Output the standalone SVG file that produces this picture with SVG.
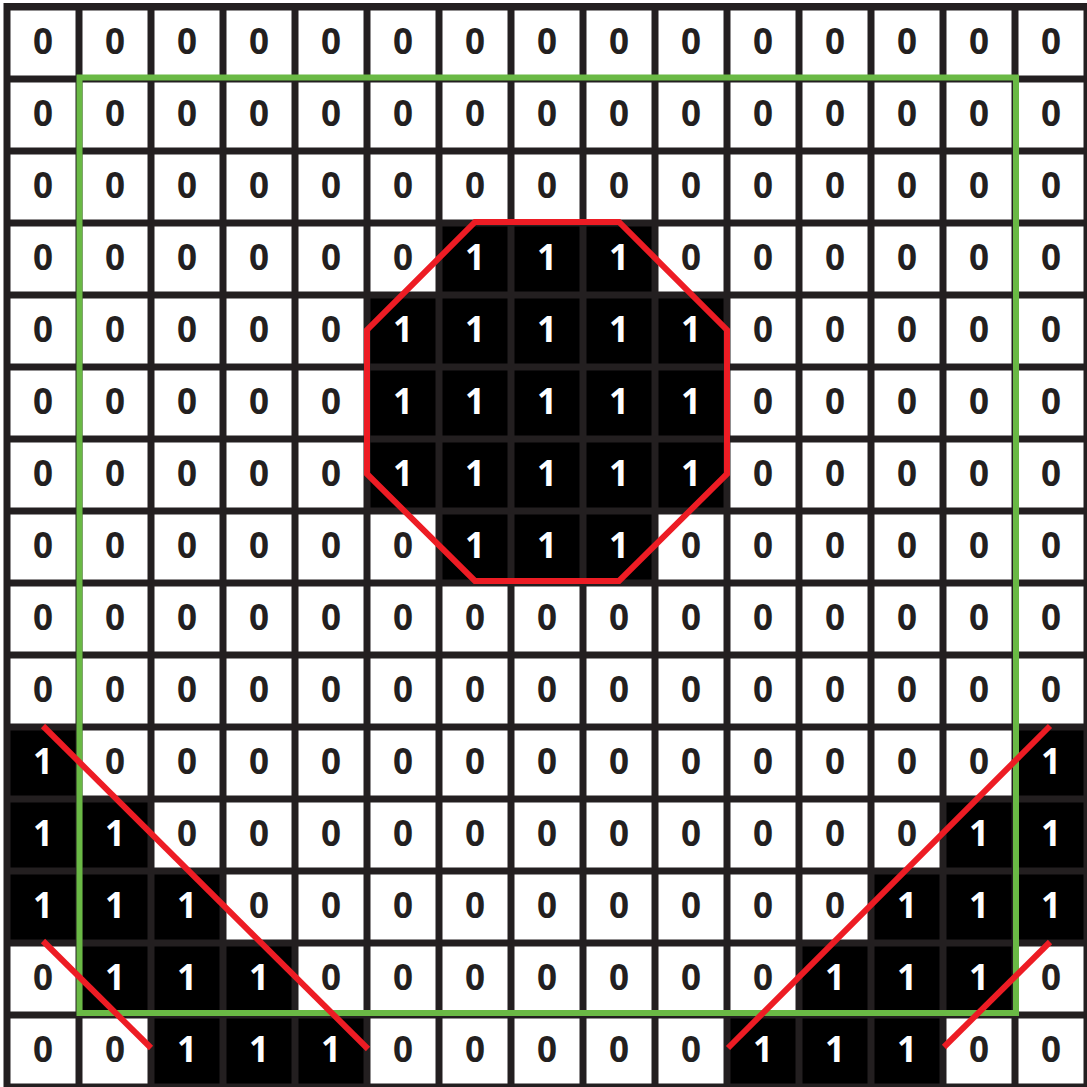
<svg xmlns="http://www.w3.org/2000/svg" width="1087" height="1087" viewBox="0 0 1087 1087">
<style>
.z rect{fill:#fff}
.o rect{fill:#000}
text{font-family:"Open Sans","Liberation Sans",sans-serif;font-weight:700;font-size:35px;text-anchor:middle}
.z text{fill:#231f20}
.o text{fill:#fff}
.green{fill:none;stroke:#6ab945;stroke-width:6}
.red{fill:none;stroke:#ed1c24;stroke-width:6;stroke-linejoin:miter}
</style>
<rect x="0" y="0" width="1087" height="1087" fill="#fff"/>
<rect x="3.5" y="3" width="1084" height="1084" fill="#231f20"/>
<g id="cells">
<g id="r0c0" class="z" transform="translate(0 0)"><rect x="10.5" y="10.5" width="65" height="65"/><text x="43" y="54">0</text></g>
<g id="r0c1" class="z" transform="translate(72 0)"><rect x="10.5" y="10.5" width="65" height="65"/><text x="43" y="54">0</text></g>
<g id="r0c2" class="z" transform="translate(144 0)"><rect x="10.5" y="10.5" width="65" height="65"/><text x="43" y="54">0</text></g>
<g id="r0c3" class="z" transform="translate(216 0)"><rect x="10.5" y="10.5" width="65" height="65"/><text x="43" y="54">0</text></g>
<g id="r0c4" class="z" transform="translate(288 0)"><rect x="10.5" y="10.5" width="65" height="65"/><text x="43" y="54">0</text></g>
<g id="r0c5" class="z" transform="translate(360 0)"><rect x="10.5" y="10.5" width="65" height="65"/><text x="43" y="54">0</text></g>
<g id="r0c6" class="z" transform="translate(432 0)"><rect x="10.5" y="10.5" width="65" height="65"/><text x="43" y="54">0</text></g>
<g id="r0c7" class="z" transform="translate(504 0)"><rect x="10.5" y="10.5" width="65" height="65"/><text x="43" y="54">0</text></g>
<g id="r0c8" class="z" transform="translate(576 0)"><rect x="10.5" y="10.5" width="65" height="65"/><text x="43" y="54">0</text></g>
<g id="r0c9" class="z" transform="translate(648 0)"><rect x="10.5" y="10.5" width="65" height="65"/><text x="43" y="54">0</text></g>
<g id="r0c10" class="z" transform="translate(720 0)"><rect x="10.5" y="10.5" width="65" height="65"/><text x="43" y="54">0</text></g>
<g id="r0c11" class="z" transform="translate(792 0)"><rect x="10.5" y="10.5" width="65" height="65"/><text x="43" y="54">0</text></g>
<g id="r0c12" class="z" transform="translate(864 0)"><rect x="10.5" y="10.5" width="65" height="65"/><text x="43" y="54">0</text></g>
<g id="r0c13" class="z" transform="translate(936 0)"><rect x="10.5" y="10.5" width="65" height="65"/><text x="43" y="54">0</text></g>
<g id="r0c14" class="z" transform="translate(1008 0)"><rect x="10.5" y="10.5" width="65" height="65"/><text x="43" y="54">0</text></g>
<g id="r1c0" class="z" transform="translate(0 72)"><rect x="10.5" y="10.5" width="65" height="65"/><text x="43" y="54">0</text></g>
<g id="r1c1" class="z" transform="translate(72 72)"><rect x="10.5" y="10.5" width="65" height="65"/><text x="43" y="54">0</text></g>
<g id="r1c2" class="z" transform="translate(144 72)"><rect x="10.5" y="10.5" width="65" height="65"/><text x="43" y="54">0</text></g>
<g id="r1c3" class="z" transform="translate(216 72)"><rect x="10.5" y="10.5" width="65" height="65"/><text x="43" y="54">0</text></g>
<g id="r1c4" class="z" transform="translate(288 72)"><rect x="10.5" y="10.5" width="65" height="65"/><text x="43" y="54">0</text></g>
<g id="r1c5" class="z" transform="translate(360 72)"><rect x="10.5" y="10.5" width="65" height="65"/><text x="43" y="54">0</text></g>
<g id="r1c6" class="z" transform="translate(432 72)"><rect x="10.5" y="10.5" width="65" height="65"/><text x="43" y="54">0</text></g>
<g id="r1c7" class="z" transform="translate(504 72)"><rect x="10.5" y="10.5" width="65" height="65"/><text x="43" y="54">0</text></g>
<g id="r1c8" class="z" transform="translate(576 72)"><rect x="10.5" y="10.5" width="65" height="65"/><text x="43" y="54">0</text></g>
<g id="r1c9" class="z" transform="translate(648 72)"><rect x="10.5" y="10.5" width="65" height="65"/><text x="43" y="54">0</text></g>
<g id="r1c10" class="z" transform="translate(720 72)"><rect x="10.5" y="10.5" width="65" height="65"/><text x="43" y="54">0</text></g>
<g id="r1c11" class="z" transform="translate(792 72)"><rect x="10.5" y="10.5" width="65" height="65"/><text x="43" y="54">0</text></g>
<g id="r1c12" class="z" transform="translate(864 72)"><rect x="10.5" y="10.5" width="65" height="65"/><text x="43" y="54">0</text></g>
<g id="r1c13" class="z" transform="translate(936 72)"><rect x="10.5" y="10.5" width="65" height="65"/><text x="43" y="54">0</text></g>
<g id="r1c14" class="z" transform="translate(1008 72)"><rect x="10.5" y="10.5" width="65" height="65"/><text x="43" y="54">0</text></g>
<g id="r2c0" class="z" transform="translate(0 144)"><rect x="10.5" y="10.5" width="65" height="65"/><text x="43" y="54">0</text></g>
<g id="r2c1" class="z" transform="translate(72 144)"><rect x="10.5" y="10.5" width="65" height="65"/><text x="43" y="54">0</text></g>
<g id="r2c2" class="z" transform="translate(144 144)"><rect x="10.5" y="10.5" width="65" height="65"/><text x="43" y="54">0</text></g>
<g id="r2c3" class="z" transform="translate(216 144)"><rect x="10.5" y="10.5" width="65" height="65"/><text x="43" y="54">0</text></g>
<g id="r2c4" class="z" transform="translate(288 144)"><rect x="10.5" y="10.5" width="65" height="65"/><text x="43" y="54">0</text></g>
<g id="r2c5" class="z" transform="translate(360 144)"><rect x="10.5" y="10.5" width="65" height="65"/><text x="43" y="54">0</text></g>
<g id="r2c6" class="z" transform="translate(432 144)"><rect x="10.5" y="10.5" width="65" height="65"/><text x="43" y="54">0</text></g>
<g id="r2c7" class="z" transform="translate(504 144)"><rect x="10.5" y="10.5" width="65" height="65"/><text x="43" y="54">0</text></g>
<g id="r2c8" class="z" transform="translate(576 144)"><rect x="10.5" y="10.5" width="65" height="65"/><text x="43" y="54">0</text></g>
<g id="r2c9" class="z" transform="translate(648 144)"><rect x="10.5" y="10.5" width="65" height="65"/><text x="43" y="54">0</text></g>
<g id="r2c10" class="z" transform="translate(720 144)"><rect x="10.5" y="10.5" width="65" height="65"/><text x="43" y="54">0</text></g>
<g id="r2c11" class="z" transform="translate(792 144)"><rect x="10.5" y="10.5" width="65" height="65"/><text x="43" y="54">0</text></g>
<g id="r2c12" class="z" transform="translate(864 144)"><rect x="10.5" y="10.5" width="65" height="65"/><text x="43" y="54">0</text></g>
<g id="r2c13" class="z" transform="translate(936 144)"><rect x="10.5" y="10.5" width="65" height="65"/><text x="43" y="54">0</text></g>
<g id="r2c14" class="z" transform="translate(1008 144)"><rect x="10.5" y="10.5" width="65" height="65"/><text x="43" y="54">0</text></g>
<g id="r3c0" class="z" transform="translate(0 216)"><rect x="10.5" y="10.5" width="65" height="65"/><text x="43" y="54">0</text></g>
<g id="r3c1" class="z" transform="translate(72 216)"><rect x="10.5" y="10.5" width="65" height="65"/><text x="43" y="54">0</text></g>
<g id="r3c2" class="z" transform="translate(144 216)"><rect x="10.5" y="10.5" width="65" height="65"/><text x="43" y="54">0</text></g>
<g id="r3c3" class="z" transform="translate(216 216)"><rect x="10.5" y="10.5" width="65" height="65"/><text x="43" y="54">0</text></g>
<g id="r3c4" class="z" transform="translate(288 216)"><rect x="10.5" y="10.5" width="65" height="65"/><text x="43" y="54">0</text></g>
<g id="r3c5" class="z" transform="translate(360 216)"><rect x="10.5" y="10.5" width="65" height="65"/><text x="43" y="54">0</text></g>
<g id="r3c6" class="o" transform="translate(432 216)"><rect x="10.5" y="10.5" width="65" height="65"/><text x="43" y="54">1</text></g>
<g id="r3c7" class="o" transform="translate(504 216)"><rect x="10.5" y="10.5" width="65" height="65"/><text x="43" y="54">1</text></g>
<g id="r3c8" class="o" transform="translate(576 216)"><rect x="10.5" y="10.5" width="65" height="65"/><text x="43" y="54">1</text></g>
<g id="r3c9" class="z" transform="translate(648 216)"><rect x="10.5" y="10.5" width="65" height="65"/><text x="43" y="54">0</text></g>
<g id="r3c10" class="z" transform="translate(720 216)"><rect x="10.5" y="10.5" width="65" height="65"/><text x="43" y="54">0</text></g>
<g id="r3c11" class="z" transform="translate(792 216)"><rect x="10.5" y="10.5" width="65" height="65"/><text x="43" y="54">0</text></g>
<g id="r3c12" class="z" transform="translate(864 216)"><rect x="10.5" y="10.5" width="65" height="65"/><text x="43" y="54">0</text></g>
<g id="r3c13" class="z" transform="translate(936 216)"><rect x="10.5" y="10.5" width="65" height="65"/><text x="43" y="54">0</text></g>
<g id="r3c14" class="z" transform="translate(1008 216)"><rect x="10.5" y="10.5" width="65" height="65"/><text x="43" y="54">0</text></g>
<g id="r4c0" class="z" transform="translate(0 288)"><rect x="10.5" y="10.5" width="65" height="65"/><text x="43" y="54">0</text></g>
<g id="r4c1" class="z" transform="translate(72 288)"><rect x="10.5" y="10.5" width="65" height="65"/><text x="43" y="54">0</text></g>
<g id="r4c2" class="z" transform="translate(144 288)"><rect x="10.5" y="10.5" width="65" height="65"/><text x="43" y="54">0</text></g>
<g id="r4c3" class="z" transform="translate(216 288)"><rect x="10.5" y="10.5" width="65" height="65"/><text x="43" y="54">0</text></g>
<g id="r4c4" class="z" transform="translate(288 288)"><rect x="10.5" y="10.5" width="65" height="65"/><text x="43" y="54">0</text></g>
<g id="r4c5" class="o" transform="translate(360 288)"><rect x="10.5" y="10.5" width="65" height="65"/><text x="43" y="54">1</text></g>
<g id="r4c6" class="o" transform="translate(432 288)"><rect x="10.5" y="10.5" width="65" height="65"/><text x="43" y="54">1</text></g>
<g id="r4c7" class="o" transform="translate(504 288)"><rect x="10.5" y="10.5" width="65" height="65"/><text x="43" y="54">1</text></g>
<g id="r4c8" class="o" transform="translate(576 288)"><rect x="10.5" y="10.5" width="65" height="65"/><text x="43" y="54">1</text></g>
<g id="r4c9" class="o" transform="translate(648 288)"><rect x="10.5" y="10.5" width="65" height="65"/><text x="43" y="54">1</text></g>
<g id="r4c10" class="z" transform="translate(720 288)"><rect x="10.5" y="10.5" width="65" height="65"/><text x="43" y="54">0</text></g>
<g id="r4c11" class="z" transform="translate(792 288)"><rect x="10.5" y="10.5" width="65" height="65"/><text x="43" y="54">0</text></g>
<g id="r4c12" class="z" transform="translate(864 288)"><rect x="10.5" y="10.5" width="65" height="65"/><text x="43" y="54">0</text></g>
<g id="r4c13" class="z" transform="translate(936 288)"><rect x="10.5" y="10.5" width="65" height="65"/><text x="43" y="54">0</text></g>
<g id="r4c14" class="z" transform="translate(1008 288)"><rect x="10.5" y="10.5" width="65" height="65"/><text x="43" y="54">0</text></g>
<g id="r5c0" class="z" transform="translate(0 360)"><rect x="10.5" y="10.5" width="65" height="65"/><text x="43" y="54">0</text></g>
<g id="r5c1" class="z" transform="translate(72 360)"><rect x="10.5" y="10.5" width="65" height="65"/><text x="43" y="54">0</text></g>
<g id="r5c2" class="z" transform="translate(144 360)"><rect x="10.5" y="10.5" width="65" height="65"/><text x="43" y="54">0</text></g>
<g id="r5c3" class="z" transform="translate(216 360)"><rect x="10.5" y="10.5" width="65" height="65"/><text x="43" y="54">0</text></g>
<g id="r5c4" class="z" transform="translate(288 360)"><rect x="10.5" y="10.5" width="65" height="65"/><text x="43" y="54">0</text></g>
<g id="r5c5" class="o" transform="translate(360 360)"><rect x="10.5" y="10.5" width="65" height="65"/><text x="43" y="54">1</text></g>
<g id="r5c6" class="o" transform="translate(432 360)"><rect x="10.5" y="10.5" width="65" height="65"/><text x="43" y="54">1</text></g>
<g id="r5c7" class="o" transform="translate(504 360)"><rect x="10.5" y="10.5" width="65" height="65"/><text x="43" y="54">1</text></g>
<g id="r5c8" class="o" transform="translate(576 360)"><rect x="10.5" y="10.5" width="65" height="65"/><text x="43" y="54">1</text></g>
<g id="r5c9" class="o" transform="translate(648 360)"><rect x="10.5" y="10.5" width="65" height="65"/><text x="43" y="54">1</text></g>
<g id="r5c10" class="z" transform="translate(720 360)"><rect x="10.5" y="10.5" width="65" height="65"/><text x="43" y="54">0</text></g>
<g id="r5c11" class="z" transform="translate(792 360)"><rect x="10.5" y="10.5" width="65" height="65"/><text x="43" y="54">0</text></g>
<g id="r5c12" class="z" transform="translate(864 360)"><rect x="10.5" y="10.5" width="65" height="65"/><text x="43" y="54">0</text></g>
<g id="r5c13" class="z" transform="translate(936 360)"><rect x="10.5" y="10.5" width="65" height="65"/><text x="43" y="54">0</text></g>
<g id="r5c14" class="z" transform="translate(1008 360)"><rect x="10.5" y="10.5" width="65" height="65"/><text x="43" y="54">0</text></g>
<g id="r6c0" class="z" transform="translate(0 432)"><rect x="10.5" y="10.5" width="65" height="65"/><text x="43" y="54">0</text></g>
<g id="r6c1" class="z" transform="translate(72 432)"><rect x="10.5" y="10.5" width="65" height="65"/><text x="43" y="54">0</text></g>
<g id="r6c2" class="z" transform="translate(144 432)"><rect x="10.5" y="10.5" width="65" height="65"/><text x="43" y="54">0</text></g>
<g id="r6c3" class="z" transform="translate(216 432)"><rect x="10.5" y="10.5" width="65" height="65"/><text x="43" y="54">0</text></g>
<g id="r6c4" class="z" transform="translate(288 432)"><rect x="10.5" y="10.5" width="65" height="65"/><text x="43" y="54">0</text></g>
<g id="r6c5" class="o" transform="translate(360 432)"><rect x="10.5" y="10.5" width="65" height="65"/><text x="43" y="54">1</text></g>
<g id="r6c6" class="o" transform="translate(432 432)"><rect x="10.5" y="10.5" width="65" height="65"/><text x="43" y="54">1</text></g>
<g id="r6c7" class="o" transform="translate(504 432)"><rect x="10.5" y="10.5" width="65" height="65"/><text x="43" y="54">1</text></g>
<g id="r6c8" class="o" transform="translate(576 432)"><rect x="10.5" y="10.5" width="65" height="65"/><text x="43" y="54">1</text></g>
<g id="r6c9" class="o" transform="translate(648 432)"><rect x="10.5" y="10.5" width="65" height="65"/><text x="43" y="54">1</text></g>
<g id="r6c10" class="z" transform="translate(720 432)"><rect x="10.5" y="10.5" width="65" height="65"/><text x="43" y="54">0</text></g>
<g id="r6c11" class="z" transform="translate(792 432)"><rect x="10.5" y="10.5" width="65" height="65"/><text x="43" y="54">0</text></g>
<g id="r6c12" class="z" transform="translate(864 432)"><rect x="10.5" y="10.5" width="65" height="65"/><text x="43" y="54">0</text></g>
<g id="r6c13" class="z" transform="translate(936 432)"><rect x="10.5" y="10.5" width="65" height="65"/><text x="43" y="54">0</text></g>
<g id="r6c14" class="z" transform="translate(1008 432)"><rect x="10.5" y="10.5" width="65" height="65"/><text x="43" y="54">0</text></g>
<g id="r7c0" class="z" transform="translate(0 504)"><rect x="10.5" y="10.5" width="65" height="65"/><text x="43" y="54">0</text></g>
<g id="r7c1" class="z" transform="translate(72 504)"><rect x="10.5" y="10.5" width="65" height="65"/><text x="43" y="54">0</text></g>
<g id="r7c2" class="z" transform="translate(144 504)"><rect x="10.5" y="10.5" width="65" height="65"/><text x="43" y="54">0</text></g>
<g id="r7c3" class="z" transform="translate(216 504)"><rect x="10.5" y="10.5" width="65" height="65"/><text x="43" y="54">0</text></g>
<g id="r7c4" class="z" transform="translate(288 504)"><rect x="10.5" y="10.5" width="65" height="65"/><text x="43" y="54">0</text></g>
<g id="r7c5" class="z" transform="translate(360 504)"><rect x="10.5" y="10.5" width="65" height="65"/><text x="43" y="54">0</text></g>
<g id="r7c6" class="o" transform="translate(432 504)"><rect x="10.5" y="10.5" width="65" height="65"/><text x="43" y="54">1</text></g>
<g id="r7c7" class="o" transform="translate(504 504)"><rect x="10.5" y="10.5" width="65" height="65"/><text x="43" y="54">1</text></g>
<g id="r7c8" class="o" transform="translate(576 504)"><rect x="10.5" y="10.5" width="65" height="65"/><text x="43" y="54">1</text></g>
<g id="r7c9" class="z" transform="translate(648 504)"><rect x="10.5" y="10.5" width="65" height="65"/><text x="43" y="54">0</text></g>
<g id="r7c10" class="z" transform="translate(720 504)"><rect x="10.5" y="10.5" width="65" height="65"/><text x="43" y="54">0</text></g>
<g id="r7c11" class="z" transform="translate(792 504)"><rect x="10.5" y="10.5" width="65" height="65"/><text x="43" y="54">0</text></g>
<g id="r7c12" class="z" transform="translate(864 504)"><rect x="10.5" y="10.5" width="65" height="65"/><text x="43" y="54">0</text></g>
<g id="r7c13" class="z" transform="translate(936 504)"><rect x="10.5" y="10.5" width="65" height="65"/><text x="43" y="54">0</text></g>
<g id="r7c14" class="z" transform="translate(1008 504)"><rect x="10.5" y="10.5" width="65" height="65"/><text x="43" y="54">0</text></g>
<g id="r8c0" class="z" transform="translate(0 576)"><rect x="10.5" y="10.5" width="65" height="65"/><text x="43" y="54">0</text></g>
<g id="r8c1" class="z" transform="translate(72 576)"><rect x="10.5" y="10.5" width="65" height="65"/><text x="43" y="54">0</text></g>
<g id="r8c2" class="z" transform="translate(144 576)"><rect x="10.5" y="10.5" width="65" height="65"/><text x="43" y="54">0</text></g>
<g id="r8c3" class="z" transform="translate(216 576)"><rect x="10.5" y="10.5" width="65" height="65"/><text x="43" y="54">0</text></g>
<g id="r8c4" class="z" transform="translate(288 576)"><rect x="10.5" y="10.5" width="65" height="65"/><text x="43" y="54">0</text></g>
<g id="r8c5" class="z" transform="translate(360 576)"><rect x="10.5" y="10.5" width="65" height="65"/><text x="43" y="54">0</text></g>
<g id="r8c6" class="z" transform="translate(432 576)"><rect x="10.5" y="10.5" width="65" height="65"/><text x="43" y="54">0</text></g>
<g id="r8c7" class="z" transform="translate(504 576)"><rect x="10.5" y="10.5" width="65" height="65"/><text x="43" y="54">0</text></g>
<g id="r8c8" class="z" transform="translate(576 576)"><rect x="10.5" y="10.5" width="65" height="65"/><text x="43" y="54">0</text></g>
<g id="r8c9" class="z" transform="translate(648 576)"><rect x="10.5" y="10.5" width="65" height="65"/><text x="43" y="54">0</text></g>
<g id="r8c10" class="z" transform="translate(720 576)"><rect x="10.5" y="10.5" width="65" height="65"/><text x="43" y="54">0</text></g>
<g id="r8c11" class="z" transform="translate(792 576)"><rect x="10.5" y="10.5" width="65" height="65"/><text x="43" y="54">0</text></g>
<g id="r8c12" class="z" transform="translate(864 576)"><rect x="10.5" y="10.5" width="65" height="65"/><text x="43" y="54">0</text></g>
<g id="r8c13" class="z" transform="translate(936 576)"><rect x="10.5" y="10.5" width="65" height="65"/><text x="43" y="54">0</text></g>
<g id="r8c14" class="z" transform="translate(1008 576)"><rect x="10.5" y="10.5" width="65" height="65"/><text x="43" y="54">0</text></g>
<g id="r9c0" class="z" transform="translate(0 648)"><rect x="10.5" y="10.5" width="65" height="65"/><text x="43" y="54">0</text></g>
<g id="r9c1" class="z" transform="translate(72 648)"><rect x="10.5" y="10.5" width="65" height="65"/><text x="43" y="54">0</text></g>
<g id="r9c2" class="z" transform="translate(144 648)"><rect x="10.5" y="10.5" width="65" height="65"/><text x="43" y="54">0</text></g>
<g id="r9c3" class="z" transform="translate(216 648)"><rect x="10.5" y="10.5" width="65" height="65"/><text x="43" y="54">0</text></g>
<g id="r9c4" class="z" transform="translate(288 648)"><rect x="10.5" y="10.5" width="65" height="65"/><text x="43" y="54">0</text></g>
<g id="r9c5" class="z" transform="translate(360 648)"><rect x="10.5" y="10.5" width="65" height="65"/><text x="43" y="54">0</text></g>
<g id="r9c6" class="z" transform="translate(432 648)"><rect x="10.5" y="10.5" width="65" height="65"/><text x="43" y="54">0</text></g>
<g id="r9c7" class="z" transform="translate(504 648)"><rect x="10.5" y="10.5" width="65" height="65"/><text x="43" y="54">0</text></g>
<g id="r9c8" class="z" transform="translate(576 648)"><rect x="10.5" y="10.5" width="65" height="65"/><text x="43" y="54">0</text></g>
<g id="r9c9" class="z" transform="translate(648 648)"><rect x="10.5" y="10.5" width="65" height="65"/><text x="43" y="54">0</text></g>
<g id="r9c10" class="z" transform="translate(720 648)"><rect x="10.5" y="10.5" width="65" height="65"/><text x="43" y="54">0</text></g>
<g id="r9c11" class="z" transform="translate(792 648)"><rect x="10.5" y="10.5" width="65" height="65"/><text x="43" y="54">0</text></g>
<g id="r9c12" class="z" transform="translate(864 648)"><rect x="10.5" y="10.5" width="65" height="65"/><text x="43" y="54">0</text></g>
<g id="r9c13" class="z" transform="translate(936 648)"><rect x="10.5" y="10.5" width="65" height="65"/><text x="43" y="54">0</text></g>
<g id="r9c14" class="z" transform="translate(1008 648)"><rect x="10.5" y="10.5" width="65" height="65"/><text x="43" y="54">0</text></g>
<g id="r10c0" class="o" transform="translate(0 720)"><rect x="10.5" y="10.5" width="65" height="65"/><text x="43" y="54">1</text></g>
<g id="r10c1" class="z" transform="translate(72 720)"><rect x="10.5" y="10.5" width="65" height="65"/><text x="43" y="54">0</text></g>
<g id="r10c2" class="z" transform="translate(144 720)"><rect x="10.5" y="10.5" width="65" height="65"/><text x="43" y="54">0</text></g>
<g id="r10c3" class="z" transform="translate(216 720)"><rect x="10.5" y="10.5" width="65" height="65"/><text x="43" y="54">0</text></g>
<g id="r10c4" class="z" transform="translate(288 720)"><rect x="10.5" y="10.5" width="65" height="65"/><text x="43" y="54">0</text></g>
<g id="r10c5" class="z" transform="translate(360 720)"><rect x="10.5" y="10.5" width="65" height="65"/><text x="43" y="54">0</text></g>
<g id="r10c6" class="z" transform="translate(432 720)"><rect x="10.5" y="10.5" width="65" height="65"/><text x="43" y="54">0</text></g>
<g id="r10c7" class="z" transform="translate(504 720)"><rect x="10.5" y="10.5" width="65" height="65"/><text x="43" y="54">0</text></g>
<g id="r10c8" class="z" transform="translate(576 720)"><rect x="10.5" y="10.5" width="65" height="65"/><text x="43" y="54">0</text></g>
<g id="r10c9" class="z" transform="translate(648 720)"><rect x="10.5" y="10.5" width="65" height="65"/><text x="43" y="54">0</text></g>
<g id="r10c10" class="z" transform="translate(720 720)"><rect x="10.5" y="10.5" width="65" height="65"/><text x="43" y="54">0</text></g>
<g id="r10c11" class="z" transform="translate(792 720)"><rect x="10.5" y="10.5" width="65" height="65"/><text x="43" y="54">0</text></g>
<g id="r10c12" class="z" transform="translate(864 720)"><rect x="10.5" y="10.5" width="65" height="65"/><text x="43" y="54">0</text></g>
<g id="r10c13" class="z" transform="translate(936 720)"><rect x="10.5" y="10.5" width="65" height="65"/><text x="43" y="54">0</text></g>
<g id="r10c14" class="o" transform="translate(1008 720)"><rect x="10.5" y="10.5" width="65" height="65"/><text x="43" y="54">1</text></g>
<g id="r11c0" class="o" transform="translate(0 792)"><rect x="10.5" y="10.5" width="65" height="65"/><text x="43" y="54">1</text></g>
<g id="r11c1" class="o" transform="translate(72 792)"><rect x="10.5" y="10.5" width="65" height="65"/><text x="43" y="54">1</text></g>
<g id="r11c2" class="z" transform="translate(144 792)"><rect x="10.5" y="10.5" width="65" height="65"/><text x="43" y="54">0</text></g>
<g id="r11c3" class="z" transform="translate(216 792)"><rect x="10.5" y="10.5" width="65" height="65"/><text x="43" y="54">0</text></g>
<g id="r11c4" class="z" transform="translate(288 792)"><rect x="10.5" y="10.5" width="65" height="65"/><text x="43" y="54">0</text></g>
<g id="r11c5" class="z" transform="translate(360 792)"><rect x="10.5" y="10.5" width="65" height="65"/><text x="43" y="54">0</text></g>
<g id="r11c6" class="z" transform="translate(432 792)"><rect x="10.5" y="10.5" width="65" height="65"/><text x="43" y="54">0</text></g>
<g id="r11c7" class="z" transform="translate(504 792)"><rect x="10.5" y="10.5" width="65" height="65"/><text x="43" y="54">0</text></g>
<g id="r11c8" class="z" transform="translate(576 792)"><rect x="10.5" y="10.5" width="65" height="65"/><text x="43" y="54">0</text></g>
<g id="r11c9" class="z" transform="translate(648 792)"><rect x="10.5" y="10.5" width="65" height="65"/><text x="43" y="54">0</text></g>
<g id="r11c10" class="z" transform="translate(720 792)"><rect x="10.5" y="10.5" width="65" height="65"/><text x="43" y="54">0</text></g>
<g id="r11c11" class="z" transform="translate(792 792)"><rect x="10.5" y="10.5" width="65" height="65"/><text x="43" y="54">0</text></g>
<g id="r11c12" class="z" transform="translate(864 792)"><rect x="10.5" y="10.5" width="65" height="65"/><text x="43" y="54">0</text></g>
<g id="r11c13" class="o" transform="translate(936 792)"><rect x="10.5" y="10.5" width="65" height="65"/><text x="43" y="54">1</text></g>
<g id="r11c14" class="o" transform="translate(1008 792)"><rect x="10.5" y="10.5" width="65" height="65"/><text x="43" y="54">1</text></g>
<g id="r12c0" class="o" transform="translate(0 864)"><rect x="10.5" y="10.5" width="65" height="65"/><text x="43" y="54">1</text></g>
<g id="r12c1" class="o" transform="translate(72 864)"><rect x="10.5" y="10.5" width="65" height="65"/><text x="43" y="54">1</text></g>
<g id="r12c2" class="o" transform="translate(144 864)"><rect x="10.5" y="10.5" width="65" height="65"/><text x="43" y="54">1</text></g>
<g id="r12c3" class="z" transform="translate(216 864)"><rect x="10.5" y="10.5" width="65" height="65"/><text x="43" y="54">0</text></g>
<g id="r12c4" class="z" transform="translate(288 864)"><rect x="10.5" y="10.5" width="65" height="65"/><text x="43" y="54">0</text></g>
<g id="r12c5" class="z" transform="translate(360 864)"><rect x="10.5" y="10.5" width="65" height="65"/><text x="43" y="54">0</text></g>
<g id="r12c6" class="z" transform="translate(432 864)"><rect x="10.5" y="10.5" width="65" height="65"/><text x="43" y="54">0</text></g>
<g id="r12c7" class="z" transform="translate(504 864)"><rect x="10.5" y="10.5" width="65" height="65"/><text x="43" y="54">0</text></g>
<g id="r12c8" class="z" transform="translate(576 864)"><rect x="10.5" y="10.5" width="65" height="65"/><text x="43" y="54">0</text></g>
<g id="r12c9" class="z" transform="translate(648 864)"><rect x="10.5" y="10.5" width="65" height="65"/><text x="43" y="54">0</text></g>
<g id="r12c10" class="z" transform="translate(720 864)"><rect x="10.5" y="10.5" width="65" height="65"/><text x="43" y="54">0</text></g>
<g id="r12c11" class="z" transform="translate(792 864)"><rect x="10.5" y="10.5" width="65" height="65"/><text x="43" y="54">0</text></g>
<g id="r12c12" class="o" transform="translate(864 864)"><rect x="10.5" y="10.5" width="65" height="65"/><text x="43" y="54">1</text></g>
<g id="r12c13" class="o" transform="translate(936 864)"><rect x="10.5" y="10.5" width="65" height="65"/><text x="43" y="54">1</text></g>
<g id="r12c14" class="o" transform="translate(1008 864)"><rect x="10.5" y="10.5" width="65" height="65"/><text x="43" y="54">1</text></g>
<g id="r13c0" class="z" transform="translate(0 936)"><rect x="10.5" y="10.5" width="65" height="65"/><text x="43" y="54">0</text></g>
<g id="r13c1" class="o" transform="translate(72 936)"><rect x="10.5" y="10.5" width="65" height="65"/><text x="43" y="54">1</text></g>
<g id="r13c2" class="o" transform="translate(144 936)"><rect x="10.5" y="10.5" width="65" height="65"/><text x="43" y="54">1</text></g>
<g id="r13c3" class="o" transform="translate(216 936)"><rect x="10.5" y="10.5" width="65" height="65"/><text x="43" y="54">1</text></g>
<g id="r13c4" class="z" transform="translate(288 936)"><rect x="10.5" y="10.5" width="65" height="65"/><text x="43" y="54">0</text></g>
<g id="r13c5" class="z" transform="translate(360 936)"><rect x="10.5" y="10.5" width="65" height="65"/><text x="43" y="54">0</text></g>
<g id="r13c6" class="z" transform="translate(432 936)"><rect x="10.5" y="10.5" width="65" height="65"/><text x="43" y="54">0</text></g>
<g id="r13c7" class="z" transform="translate(504 936)"><rect x="10.5" y="10.5" width="65" height="65"/><text x="43" y="54">0</text></g>
<g id="r13c8" class="z" transform="translate(576 936)"><rect x="10.5" y="10.5" width="65" height="65"/><text x="43" y="54">0</text></g>
<g id="r13c9" class="z" transform="translate(648 936)"><rect x="10.5" y="10.5" width="65" height="65"/><text x="43" y="54">0</text></g>
<g id="r13c10" class="z" transform="translate(720 936)"><rect x="10.5" y="10.5" width="65" height="65"/><text x="43" y="54">0</text></g>
<g id="r13c11" class="o" transform="translate(792 936)"><rect x="10.5" y="10.5" width="65" height="65"/><text x="43" y="54">1</text></g>
<g id="r13c12" class="o" transform="translate(864 936)"><rect x="10.5" y="10.5" width="65" height="65"/><text x="43" y="54">1</text></g>
<g id="r13c13" class="o" transform="translate(936 936)"><rect x="10.5" y="10.5" width="65" height="65"/><text x="43" y="54">1</text></g>
<g id="r13c14" class="z" transform="translate(1008 936)"><rect x="10.5" y="10.5" width="65" height="65"/><text x="43" y="54">0</text></g>
<g id="r14c0" class="z" transform="translate(0 1008)"><rect x="10.5" y="10.5" width="65" height="65"/><text x="43" y="54">0</text></g>
<g id="r14c1" class="z" transform="translate(72 1008)"><rect x="10.5" y="10.5" width="65" height="65"/><text x="43" y="54">0</text></g>
<g id="r14c2" class="o" transform="translate(144 1008)"><rect x="10.5" y="10.5" width="65" height="65"/><text x="43" y="54">1</text></g>
<g id="r14c3" class="o" transform="translate(216 1008)"><rect x="10.5" y="10.5" width="65" height="65"/><text x="43" y="54">1</text></g>
<g id="r14c4" class="o" transform="translate(288 1008)"><rect x="10.5" y="10.5" width="65" height="65"/><text x="43" y="54">1</text></g>
<g id="r14c5" class="z" transform="translate(360 1008)"><rect x="10.5" y="10.5" width="65" height="65"/><text x="43" y="54">0</text></g>
<g id="r14c6" class="z" transform="translate(432 1008)"><rect x="10.5" y="10.5" width="65" height="65"/><text x="43" y="54">0</text></g>
<g id="r14c7" class="z" transform="translate(504 1008)"><rect x="10.5" y="10.5" width="65" height="65"/><text x="43" y="54">0</text></g>
<g id="r14c8" class="z" transform="translate(576 1008)"><rect x="10.5" y="10.5" width="65" height="65"/><text x="43" y="54">0</text></g>
<g id="r14c9" class="z" transform="translate(648 1008)"><rect x="10.5" y="10.5" width="65" height="65"/><text x="43" y="54">0</text></g>
<g id="r14c10" class="o" transform="translate(720 1008)"><rect x="10.5" y="10.5" width="65" height="65"/><text x="43" y="54">1</text></g>
<g id="r14c11" class="o" transform="translate(792 1008)"><rect x="10.5" y="10.5" width="65" height="65"/><text x="43" y="54">1</text></g>
<g id="r14c12" class="o" transform="translate(864 1008)"><rect x="10.5" y="10.5" width="65" height="65"/><text x="43" y="54">1</text></g>
<g id="r14c13" class="z" transform="translate(936 1008)"><rect x="10.5" y="10.5" width="65" height="65"/><text x="43" y="54">0</text></g>
<g id="r14c14" class="z" transform="translate(1008 1008)"><rect x="10.5" y="10.5" width="65" height="65"/><text x="43" y="54">0</text></g>
</g>
<g id="overlays">
<rect id="frame" class="green" x="79.5" y="77.5" width="936.5" height="935.5"/>
<polygon id="octagon" class="red" points="475,222 619,222 727,330 727,474 619,581 475,581 367,474 367,330"/>
<line class="red" x1="43" y1="726" x2="368" y2="1049"/>
<line class="red" x1="43" y1="941" x2="151" y2="1048"/>
<line class="red" x1="1050" y1="726" x2="728" y2="1048"/>
<line class="red" x1="1050" y1="942" x2="944" y2="1047"/>
</g>
</svg>
